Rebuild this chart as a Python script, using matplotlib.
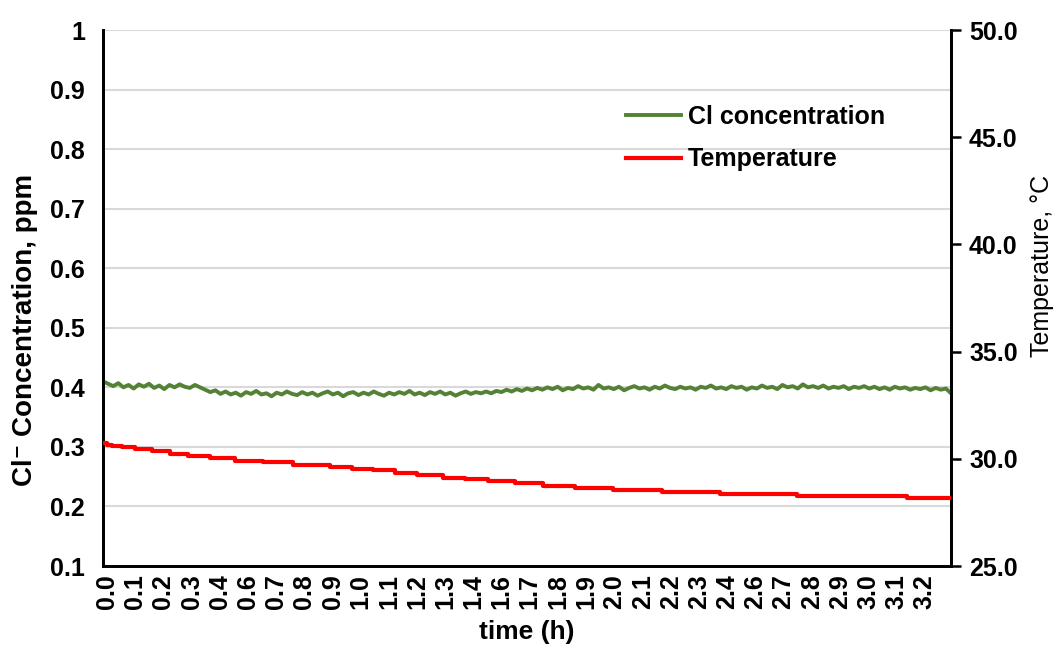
import numpy as np
import matplotlib
matplotlib.use("Agg")
import matplotlib.pyplot as plt

plt.rcParams['font.family'] = ['Liberation Sans', 'DejaVu Sans']
plt.rcParams['font.weight'] = 'bold'

# Cl- concentration (ppm), evenly spaced over the run
cl_conc = [0.410, 0.406, 0.402, 0.407, 0.400, 0.404, 0.398, 0.405, 0.401, 0.406,
           0.399, 0.403, 0.397, 0.404, 0.400, 0.405, 0.401, 0.399, 0.404, 0.400,
           0.396, 0.392, 0.395,
           0.389, 0.393, 0.388, 0.391, 0.386, 0.392, 0.389, 0.394, 0.388, 0.390,
           0.385, 0.391, 0.388, 0.393, 0.389, 0.387, 0.392, 0.388, 0.391, 0.386,
           0.390, 0.393, 0.388, 0.391, 0.385, 0.390, 0.392, 0.387, 0.391, 0.388,
           0.393, 0.389, 0.386, 0.391, 0.388, 0.392, 0.389, 0.394, 0.388, 0.391,
           0.387, 0.392, 0.389, 0.393, 0.388, 0.391, 0.386, 0.390, 0.393, 0.389,
           0.392, 0.390,
           0.393, 0.390, 0.394, 0.392, 0.396, 0.393, 0.397, 0.394, 0.398, 0.395,
           0.399, 0.396, 0.400, 0.397, 0.401, 0.395, 0.399, 0.397, 0.402, 0.398,
           0.400, 0.396, 0.404, 0.398, 0.400, 0.397, 0.401, 0.395, 0.399, 0.402,
           0.398, 0.400, 0.396, 0.401, 0.398, 0.403, 0.399, 0.397, 0.401, 0.398,
           0.400, 0.396, 0.401, 0.399, 0.403, 0.398, 0.400, 0.397, 0.402, 0.399,
           0.401, 0.396, 0.400, 0.398, 0.403, 0.399, 0.401, 0.397, 0.404, 0.400,
           0.402, 0.398, 0.405, 0.400, 0.402, 0.399, 0.403, 0.398, 0.401, 0.399,
           0.402, 0.397, 0.401, 0.399, 0.402,
           0.398, 0.401, 0.397, 0.400, 0.396, 0.401, 0.398, 0.400, 0.396, 0.399,
           0.397, 0.400, 0.395, 0.399, 0.396, 0.398, 0.390]
t_end = 3.345

# temperature steps: time (h) where each level starts, and the level (degC)
temp_time = [0.000, 0.015, 0.034, 0.074, 0.126, 0.192, 0.264, 0.336, 0.422, 0.521,
             0.632, 0.751, 0.895, 0.981, 1.066, 1.152, 1.238, 1.341, 1.428, 1.518,
             1.625, 1.735, 1.862, 2.011, 2.205, 2.433, 2.737, 3.171, 3.345]
temp_val = [30.76, 30.64, 30.58, 30.54, 30.44, 30.35, 30.24, 30.14, 30.02, 29.91,
            29.84, 29.72, 29.63, 29.54, 29.46, 29.32, 29.23, 29.12, 29.06, 28.95,
            28.87, 28.73, 28.62, 28.54, 28.44, 28.36, 28.25, 28.17, 28.17]

# category-style tick labels as shown on the time axis
time_labels = ['0.0', '0.1', '0.2', '0.3', '0.4', '0.6', '0.7', '0.8', '0.9', '1.0',
               '1.1', '1.2', '1.3', '1.4', '1.6', '1.7', '1.8', '1.9', '2.0', '2.1',
               '2.2', '2.3', '2.4', '2.6', '2.7', '2.8', '2.9', '3.0', '3.1', '3.2']
label_step = 0.1112
label_start = 0.0158

green = '#548235'
red = '#ff0000'

fig = plt.figure(figsize=(10.57, 6.57), dpi=100)
ax = fig.add_axes([103/1057, 91/657, 848/1057, 536/657])
ax2 = ax.twinx()

t_cl = np.linspace(0, t_end, len(cl_conc))
l1, = ax.plot(t_cl, cl_conc, color=green, lw=2.8, label='Cl concentration', zorder=3)
l2, = ax2.plot(temp_time, temp_val, color=red, lw=3.0, drawstyle='steps-post',
               label='Temperature', zorder=3)

ax.set_xlim(0, t_end)
ax.set_ylim(0.1, 1.0)
ax.set_yticks(np.arange(0.1, 1.01, 0.1))
ax.set_yticklabels(['0.1', '0.2', '0.3', '0.4', '0.5', '0.6', '0.7', '0.8', '0.9', '1'])
ax.grid(axis='y', color='#d9d9d9', lw=1.5)
ax.set_axisbelow(True)

ax2.set_ylim(25, 50)
ax2.set_yticks(np.arange(25, 50.1, 5))
ax2.set_yticklabels(['%.1f' % v for v in np.arange(25, 50.1, 5)])

ax.set_xticks([label_start + i * label_step for i in range(len(time_labels))])
ax.set_xticklabels(time_labels, rotation=90)

ax.tick_params(axis='x', length=0, labelsize=18, pad=6)
ax.tick_params(axis='y', length=0, labelsize=18, pad=13)
ax2.tick_params(axis='y', length=7, width=1.8, direction='out', labelsize=18, pad=6)

for a in (ax, ax2):
    a.spines['top'].set_visible(False)
    for s in ('left', 'right', 'bottom'):
        a.spines[s].set_linewidth(2)
        a.spines[s].set_color('black')

ax.set_xlabel('time (h)', fontsize=19, fontweight='bold', labelpad=8)
ax.set_ylabel('Cl\u207b Concentration, ppm', fontsize=20, fontweight='bold')
ax.yaxis.set_label_coords(-0.077, 0.44)
ax2.set_ylabel('Temperature, \u00b0C', fontsize=18, fontweight='normal')
ax2.yaxis.set_label_coords(1.093, 0.56)

fig.legend(handles=[l1, l2], loc='upper left', bbox_to_anchor=(613/1057, 1 - 92/657),
           frameon=False, fontsize=18, handlelength=2.2, handletextpad=0.3,
           labelspacing=0.75, borderpad=0)

fig.savefig('out.png', dpi=100)
